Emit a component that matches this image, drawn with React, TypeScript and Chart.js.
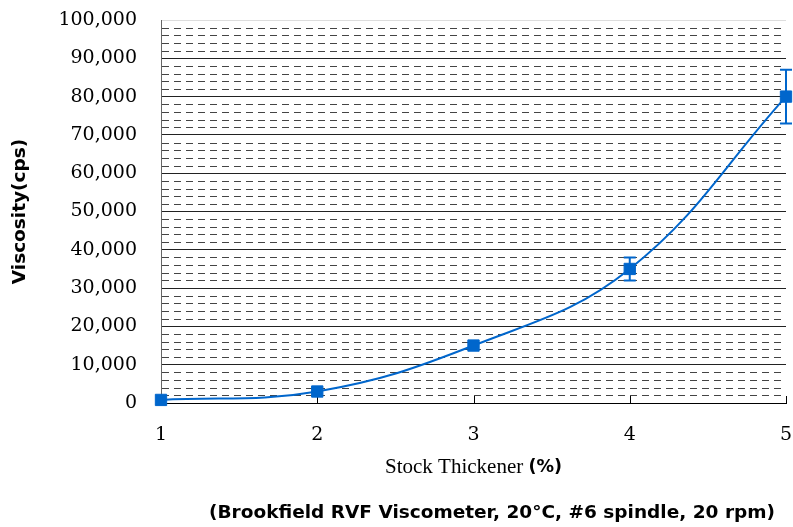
import React, { useEffect, useRef } from "react";
import { Chart, registerables } from "chart.js";

Chart.register(...registerables);

const thickener = [1, 2, 3, 4, 5];
const viscosity = [800, 3000, 15000, 35000, 80000];
const errorPlus = [0, 0, 0, 3000, 7000];
const errorMinus = [0, 0, 0, 3000, 7000];
const minorTicks = Array.from({ length: 49 }, (_, i) => (i + 1) * 2000).filter((v) => v % 10000 !== 0);
const yTitle = "Viscosity(cps)";
const xTitleA = "Stock Thickener ";
const xTitleB = "(%)";
const subtitle = "(Brookfield RVF Viscometer, 20°C, #6 spindle, 20 rpm)";

const BLUE = "#0066CC";

const decorPlugin = {
  id: "decor",
  beforeDatasetsDraw(chart: any) {
    const { ctx, chartArea, scales } = chart;
    const y = scales.y;
    const x = scales.x;
    ctx.save();
    ctx.strokeStyle = "#444";
    ctx.lineWidth = 1;
    ctx.setLineDash([7, 5]);
    for (const v of minorTicks) {
      const py = Math.round(y.getPixelForValue(v)) + 0.5;
      ctx.beginPath();
      ctx.moveTo(chartArea.left + 1, py);
      ctx.lineTo(chartArea.right, py);
      ctx.stroke();
    }
    ctx.setLineDash([]);
    ctx.strokeStyle = "#000";
    for (const t of thickener) {
      const px = Math.round(x.getPixelForValue(t)) + 0.5;
      ctx.beginPath();
      ctx.moveTo(px, chartArea.bottom);
      ctx.lineTo(px, chartArea.bottom - 7);
      ctx.stroke();
    }
    ctx.restore();
  },
  afterDatasetsDraw(chart: any) {
    const { ctx, scales } = chart;
    const y = scales.y;
    const x = scales.x;
    ctx.save();
    ctx.strokeStyle = BLUE;
    ctx.lineWidth = 2;
    thickener.forEach((t, i) => {
      if (!errorPlus[i] && !errorMinus[i]) return;
      const px = x.getPixelForValue(t);
      const top = y.getPixelForValue(viscosity[i] + errorPlus[i]);
      const bot = y.getPixelForValue(viscosity[i] - errorMinus[i]);
      ctx.beginPath();
      ctx.moveTo(px, top);
      ctx.lineTo(px, bot);
      ctx.moveTo(px - 6, top);
      ctx.lineTo(px + 6, top);
      ctx.moveTo(px - 6, bot);
      ctx.lineTo(px + 6, bot);
      ctx.stroke();
    });
    ctx.restore();
  },
  afterDraw(chart: any) {
    const { ctx, chartArea } = chart;
    ctx.save();
    ctx.fillStyle = "#000";
    ctx.textBaseline = "middle";
    ctx.textAlign = "left";
    const fA = "21px 'Liberation Serif'";
    const fB = "bold 17.5px 'DejaVu Sans'";
    ctx.font = fA;
    const wA = ctx.measureText(xTitleA).width;
    ctx.font = fB;
    const wB = ctx.measureText(xTitleB).width;
    const cx = (chartArea.left + chartArea.right) / 2;
    const sx = cx - (wA + wB) / 2;
    ctx.font = fA;
    ctx.fillText(xTitleA, sx, 467);
    ctx.font = fB;
    ctx.fillText(xTitleB, sx + wA, 467);
    ctx.font = "bold 18.5px 'DejaVu Sans'";
    ctx.textAlign = "right";
    ctx.fillText(subtitle, 775, 513);
    ctx.restore();
  },
};

export default function App() {
  const ref = useRef<HTMLCanvasElement | null>(null);
  useEffect(() => {
    document.body.style.margin = "0";
    const canvas = ref.current!;
    const chart = new Chart(canvas, {
      type: "line",
      data: {
        datasets: [
          {
            data: thickener.map((t, i) => ({ x: t, y: viscosity[i] })),
            borderColor: BLUE,
            backgroundColor: BLUE,
            borderWidth: 2,
            tension: 0.4,
            pointStyle: "rect",
            pointRadius: 8,
            pointBorderWidth: 1,
            pointBorderColor: BLUE,
            pointBackgroundColor: BLUE,
            fill: false,
            clip: false,
          },
        ],
      },
      options: {
        animation: false,
        responsive: false,
        devicePixelRatio: 1,
        layout: { autoPadding: false, padding: { left: 0, right: 7, top: 20, bottom: 0 } },
        plugins: { legend: { display: false }, tooltip: { enabled: false } },
        scales: {
          x: {
            type: "linear",
            min: 1,
            max: 5,
            ticks: {
              stepSize: 1,
              color: "#000",
              font: { family: "'DejaVu Serif'", size: 19 },
              padding: 0,
            },
            grid: {
              display: true,
              drawOnChartArea: false,
              drawTicks: true,
              tickLength: 21,
              tickColor: "transparent",
            },
            border: { display: true, color: "#000", width: 1 },
            afterFit: (s: any) => {
              s.height = 124;
              s.paddingRight = 0;
              s.paddingLeft = 0;
            },
          },
          y: {
            min: 0,
            max: 100000,
            ticks: {
              stepSize: 10000,
              color: "#000",
              font: { family: "'DejaVu Serif'", size: 19 },
              padding: 0,
              callback: (v: any) => Number(v).toLocaleString("en-US"),
            },
            grid: {
              drawTicks: true,
              tickLength: 24,
              tickColor: "transparent",
              color: (c: any) => (c.tick && c.tick.value === 100000 ? "#ddd" : "#222"),
              lineWidth: 1,
            },
            border: { display: true, color: "#666", width: 1 },
            title: {
              display: true,
              text: yTitle,
              color: "#000",
              font: { family: "'DejaVu Sans'", size: 18.5, weight: "bold" },
              padding: { top: 9, bottom: 0 },
            },
            afterFit: (s: any) => {
              s.width = 161;
            },
          },
        },
      },
      plugins: [decorPlugin],
    });
    return () => chart.destroy();
  }, []);
  return <canvas ref={ref} width={793} height={527} style={{ display: "block" }} />;
}
